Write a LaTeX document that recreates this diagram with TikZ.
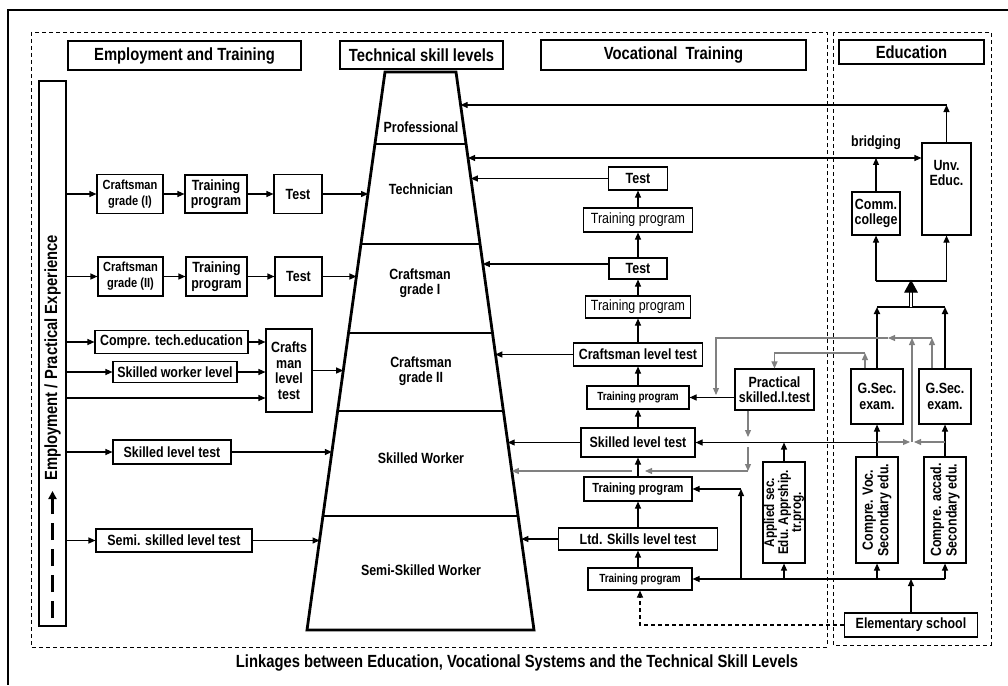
\documentclass[tikz,border=0pt]{standalone}
\usepackage{fontspec}
\setmainfont[FakeStretch=0.84]{Liberation Sans}
\usetikzlibrary{arrows.meta,calc}
\newcommand\hdsize{\fontsize{17.6}{20}\selectfont\bfseries}
\newcommand\bxsize{\fontsize{14.8}{15.5}\selectfont\bfseries}
\newcommand\rgsize{\fontsize{14.8}{15.5}\selectfont}
\newcommand\mdsize{\fontsize{13.2}{16}\selectfont\bfseries}
\newcommand\smsize{\fontsize{11.8}{13}\selectfont\bfseries}
\begin{document}
\begin{tikzpicture}[x=1pt,y=-1pt,line width=1.1pt,
  bx/.style={draw,inner sep=0pt,align=center,font=\bxsize},
  hd/.style={bx,font=\hdsize},
  arr/.style={-{Triangle[length=7pt,width=6pt]}},
  garr/.style={arr,color=black!50},
  frm/.style={dash pattern=on 4pt off 3pt,line width=.9pt}]
  \useasboundingbox (0,0) rectangle (1008,685);
  \draw[line width=1.4pt] (1008,10)--(8,10)--(8,685);
  \draw[frm] (31,32) rectangle (827,647); \draw[frm] (833,32) rectangle (991,645);
  \node[hd,minimum width=233,minimum height=29] (hEmp) at (184.5,55.5) {Employment and Training};
  \node[hd,minimum width=163,minimum height=28] (hTech) at (421.5,55) {Technical skill levels};
  \node[hd,minimum width=265,minimum height=30] (hVoc) at (673.5,55) {Vocational\ \ Training};
  \node[hd,minimum width=145,minimum height=24] (hEdu) at (911.5,52) {Education};
  % left column
  \node[bx,minimum width=27,minimum height=545] (bar) at (52.5,353.5) {};
  \node[rotate=90,font=\hdsize] (barTxt) at (52.5,358) {Employment / Practical Experience};
  \coordinate (da) at (52.5,618); \coordinate (db) at (52.5,491);
  \draw[line width=2.6pt,dash pattern=on 17pt off 9pt,-{Triangle[length=8pt,width=8pt]}] (da)--(db);
  \node[bx,font=\mdsize,minimum width=66,minimum height=39] (cg1) at (130,194) {Craftsman\\grade (I)};
  \node[bx,minimum width=62,minimum height=38] (tp1) at (216,194) {Training\\program};
  \node[bx,minimum width=48,minimum height=39] (ts1) at (298,194) {Test};
  \node[bx,font=\mdsize,minimum width=65,minimum height=39] (cg2) at (130.5,276.5) {Craftsman\\grade (II)};
  \node[bx,minimum width=61,minimum height=39] (tp2) at (216.5,276.5) {Training\\program};
  \node[bx,minimum width=47,minimum height=39] (ts2) at (298.5,276.5) {Test};
  \node[bx,minimum width=153,minimum height=23] (cte) at (171.5,342) {Compre. tech.education};
  \node[bx,minimum width=124,minimum height=21] (swl) at (175,372) {Skilled worker level};
  \node[bx,minimum width=46,minimum height=83] (cmlt) at (289,370.5) {Crafts\\man\\level\\test};
  \node[bx,minimum width=118,minimum height=24] (slt) at (172,452) {Skilled level test};
  \node[bx,minimum width=156,minimum height=23] (sslt) at (174,540.5) {Semi. skilled level test};
  % skill levels
  \coordinate (TL) at (385,72); \coordinate (TR) at (456,72);
  \coordinate (BR) at (534,630); \coordinate (BL) at (307,630);
  \draw[line width=2.8pt,line join=miter] (TL)--(TR)--(BR)--(BL)--cycle;
  \foreach \f in {.1290,.3082,.4677,.6075,.7957} \draw[line width=1.3pt] ($(TL)!\f!(BL)$)--($(TR)!\f!(BR)$);
  \foreach \n/\f in {l1/.2168,l2/.3656,l3/.5358,l4/.6810,l5/.8387} \coordinate (\n) at ($(TL)!\f!(BL)$);
  \foreach \n/\f in {r0/.0591,r1/.1541,r2/.1900,r3/.3441,r4/.5036,r5/.6631,r6/.7151,r7/.8369} \coordinate (\n) at ($(TR)!\f!(BR)$);
  \node[font=\bxsize] (lvP) at (421,127) {Professional};
  \node[font=\bxsize] (lvT) at (421,189) {Technician};
  \node[font=\bxsize,align=center] (lvC1) at (420,283) {Craftsman\\grade I};
  \node[font=\bxsize,align=center] (lvC2) at (421,371) {Craftsman\\grade II};
  \node[font=\bxsize] (lvS) at (421,458) {Skilled Worker};
  \node[font=\bxsize] (lvSS) at (421,570) {Semi-Skilled Worker};
  \draw[arr] (bar.east |- cg1)--(cg1); \draw[arr] (cg1)--(tp1); \draw[arr] (tp1)--(ts1); \draw[arr] (ts1)--(ts1 -| l1);
  \draw[arr] (bar.east |- cg2)--(cg2); \draw[arr] (cg2)--(tp2); \draw[arr] (tp2)--(ts2); \draw[arr] (ts2)--(ts2 -| l2);
  \draw[arr] (bar.east |- cte)--(cte); \draw[arr] (cte)--(cte -| cmlt.west);
  \draw[arr] (bar.east |- swl)--(swl); \draw[arr] (swl)--(swl -| cmlt.west);
  \coordinate (b3) at (66,398); \draw[arr] (b3)--(b3 -| cmlt.west);
  \draw[arr] (cmlt)--(cmlt -| l3);
  \draw[arr] (bar.east |- slt)--(slt); \draw[arr] (slt)--(slt -| l4);
  \draw[arr] (bar.east |- sslt)--(sslt); \draw[arr] (sslt)--(sslt -| l5);
  % vocational training
  \node[bx,minimum width=59,minimum height=23] (vt1) at (638,178.5) {Test};
  \node[bx,font=\rgsize,minimum width=109,minimum height=24] (vp1) at (638,220) {Training program};
  \node[bx,minimum width=58,minimum height=21] (vt2) at (638,268.5) {Test};
  \node[bx,font=\rgsize,minimum width=105,minimum height=22] (vp2) at (638,307) {Training program};
  \node[bx,minimum width=129,minimum height=23] (vclt) at (638,354.5) {Craftsman level test};
  \node[bx,font=\smsize,minimum width=102,minimum height=23] (vp3) at (638,397.5) {Training program};
  \node[bx,minimum width=114,minimum height=29] (vslt) at (638,442.5) {Skilled level test};
  \node[bx,font=\mdsize,minimum width=108,minimum height=24] (vp4) at (638,489) {Training program};
  \node[bx,minimum width=159,minimum height=22] (vltd) at (638,539) {Ltd. Skills level test};
  \node[bx,font=\smsize,minimum width=104,minimum height=22] (vp5) at (640,579) {Training program};
  \foreach \a/\b in {vp1/vt1,vt2/vp1,vp2/vt2,vclt/vp2,vp3/vclt,vslt/vp3,vp4/vslt,vltd/vp4} \draw[arr] (\a)--(\b);
  \draw[arr] (vp5.north -| vltd)--(vltd);
  \node[bx,minimum width=79,minimum height=41] (psl) at (774.5,389.5) {Practical\\skilled.l.test};
  \node[bx,rotate=90,font=\fontsize{14}{12}\selectfont\bfseries,minimum width=101,minimum height=42] (app) at (784,512.5) {Applied sec.\\Edu. Apprship.\\tr.prog.};
  % education
  \node[bx,minimum width=52,minimum height=55] (gs1) at (877,396.5) {G.Sec.\\exam.};
  \node[bx,minimum width=52,minimum height=55] (gs2) at (945,396.5) {G.Sec.\\exam.};
  \node[bx,rotate=90,minimum width=106,minimum height=42] (cv) at (877,510) {Compre. Voc.\\Secondary edu.};
  \node[bx,rotate=90,minimum width=106,minimum height=42] (ca) at (945,510) {Compre. accad.\\Secondary edu.};
  \node[bx,minimum width=48,minimum height=43] (cc) at (876,213.5) {Comm.\\college};
  \node[bx,minimum width=49,minimum height=92] (unv) at (946.5,189) {};
  \node[font=\bxsize,align=center] (unvTxt) at (946.5,173) {Unv.\\Educ.};
  \node[font=\bxsize] (brg) at (876,143) {bridging};
  \node[bx,minimum width=133,minimum height=24] (es) at (911,625) {Elementary school};
  % links to the skill levels
  \coordinate (u1) at (946.5,105); \draw[arr] (unv)--(u1); \draw[arr] (u1)--(u1 -| r0);
  \draw[{Triangle[length=7pt,width=6pt]}-{Triangle[length=7pt,width=6pt]}] (r1)--(r1 -| unv.west);
  \draw[arr] (cc)--(cc |- r1);
  \draw[arr] (vt1)--(vt1 -| r2); \draw[arr] (vt2.west |- r3)--(r3);
  \draw[arr] (vclt)--(vclt -| r4); \draw[arr] (vslt)--(vslt -| r5); \draw[arr] (vltd)--(vltd -| r7);
  % bottom bus
  \coordinate (busR) at (945,579);
  \draw[arr] (busR)--(busR -| vp5.east); \draw[arr] (busR)--(ca);
  \draw[arr] (busR -| cv)--(cv); \draw[arr] (busR -| app)--(app); \draw[arr] (es)--(es |- busR);
  \coordinate (k1) at (741,489); \draw[arr] (k1 |- busR)--(k1); \draw[arr] (k1)--(vp4);
  \draw[arr,dash pattern=on 4pt off 3pt] (es)--(es -| vp5)--(vp5);
  \draw[arr] (cv |- vslt)--(vslt); \draw[arr] (app)--(app |- vslt);
  \draw[arr] (cv)--(gs1); \draw[arr] (ca)--(gs2);
  \draw[arr] (psl.west |- vp3)--(vp3);
  % upwards to college and university
  \coordinate (j1) at (911,307); \coordinate (j2) at (911,281);
  \draw[arr,line width=1.8pt] (gs1)--(gs1 |- j1); \draw[arr,line width=1.8pt] (gs2)--(gs2 |- j1);
  \draw[line width=1.4pt] (gs1 |- j1)--(gs2 |- j1);
  \draw[double,double distance=2pt,line width=.9pt] (j1)--([yshift=-10pt]j2);
  \draw[fill] (j2)--([xshift=-6pt,yshift=-11pt]j2)--([xshift=6pt,yshift=-11pt]j2)--cycle;
  \draw (cc |- j2)--(unv |- j2); \draw[arr] (cc |- j2)--(cc); \draw[arr] (unv |- j2)--(unv);
  % grey links
  \coordinate (g1) at (912,442); \coordinate (g2) at (912,338); \coordinate (g3) at (932,338);
  \coordinate (g4) at (716,338); \coordinate (g4b) at (716,395); \coordinate (g5) at (888,338);
  \coordinate (g6) at (865,353); \coordinate (g7) at (748,437); \coordinate (g8) at (748,447);
  \coordinate (g9) at (748,471); \coordinate (g10) at (645,471); \coordinate (g11) at (632,471);
  \draw[garr] (cv |- g1)--([xshift=-2pt]g1); \draw[garr] (ca |- g1)--([xshift=2pt]g1);
  \draw[garr] (g1)--(g2); \draw[garr] (g3 |- gs2.north)--(g3);
  \draw[garr] (g3)--(g5); \draw[garr] (g5)--(g4)--(g4b);
  \draw[garr] (g6 |- gs1.north)--(g6); \draw[garr] (g6)--(g6 -| psl)--(psl);
  \draw[garr] (g7 |- psl.south)--(g7); \draw[garr] (g8)--(g9); \draw[garr] (g9)--(g10);
  \draw[garr] (g11)--(g11 -| r6);
  \node[font=\hdsize] (cap) at (517,663) {Linkages between Education, Vocational Systems and the Technical Skill Levels};
\end{tikzpicture}
\end{document}
